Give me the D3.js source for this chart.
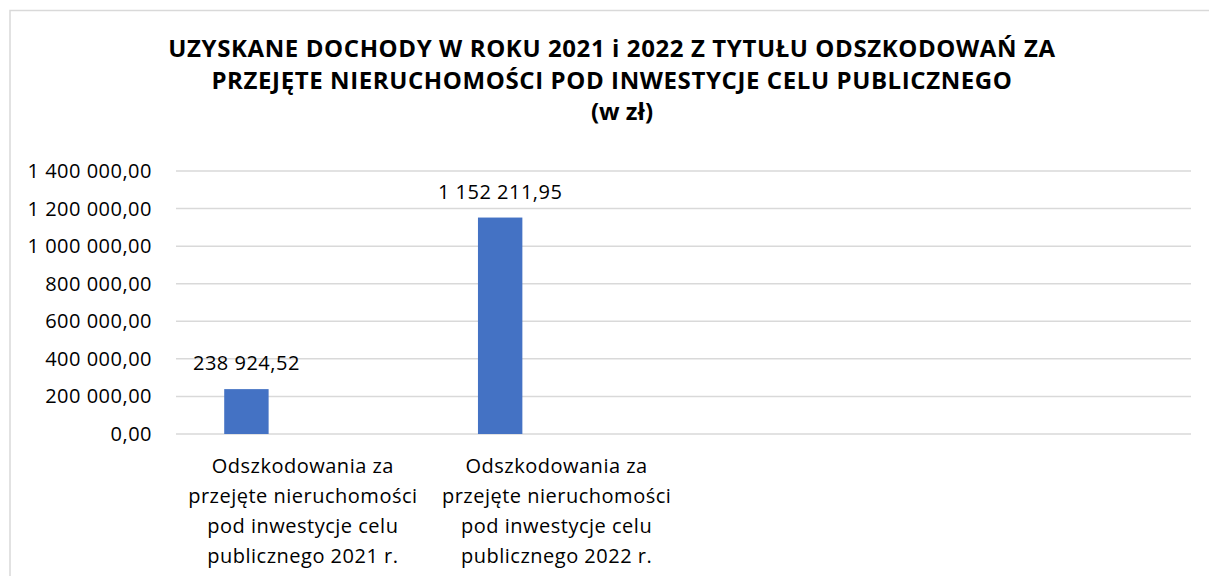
<!DOCTYPE html>
<html>
<head>
<meta charset="utf-8">
<script src="https://cdn.jsdelivr.net/npm/d3@7"></script>
<style>
  body { margin: 0; background: #fff; }
  text { font-family: "Open Sans", Lato, sans-serif; fill: #000; }
</style>
</head>
<body>
<script>
/* data */
var titleLines = [
    'UZYSKANE DOCHODY W ROKU 2021 i 2022 Z TYTUŁU ODSZKODOWAŃ ZA',
    'PRZEJĘTE NIERUCHOMOŚCI POD INWESTYCJE CELU PUBLICZNEGO',
    '(w zł)'
]
var categories = ['2021', '2022', 'empty3', 'empty4']
var categoryLabels = [
    ['Odszkodowania za', 'przejęte nieruchomości', 'pod inwestycje celu', 'publicznego 2021 r.'],
    ['Odszkodowania za', 'przejęte nieruchomości', 'pod inwestycje celu', 'publicznego 2022 r.'],
    [],
    []
]
var values = [238924.52, 1152211.95, null, null]
var yTicks = [0, 200000, 400000, 600000, 800000, 1000000, 1200000, 1400000]

/* setup */
var width = 1209
var height = 576
var plot = { left: 176, right: 1191, top: 171, bottom: 434 }

var fmt = function(v) {
    var s = v.toFixed(2).split('.')
    return s[0].replace(/\B(?=(\d{3})+(?!\d))/g, ' ') + ',' + s[1]
}

var svg =
    d3.select('body').append('svg')
    .attr('width', width)
    .attr('height', height)

// chart frame
svg.append('path')
    .attr('d', 'M10,' + height + 'V10.5H' + width)
    .attr('fill', 'none')
    .attr('stroke', '#d9d9d9')
    .attr('stroke-width', 1.5)

var x = d3.scaleBand()
    .domain(categories)
    .range([plot.left, plot.right])

var y = d3.scaleLinear()
    .domain([0, 1400000])
    .range([plot.bottom, plot.top])

/* title */
svg.append('g').selectAll('text').data(titleLines)
    .enter().append('text')
    .attr('x', function(d, i) { return i == 2 ? 622 : 612 })
    .attr('y', function(d, i) { return 57 + i * 31.5 })
    .attr('text-anchor', 'middle')
    .style('font-size', '24px')
    .style('font-weight', 'bold')
    .style('letter-spacing', function(d, i) { return i == 2 ? '0px' : '0.6px' })
    .text(function(d) { return d })

/* grid + y labels */
var gy = svg.append('g')
gy.selectAll('line').data(yTicks)
    .enter().append('line')
    .attr('x1', plot.left)
    .attr('x2', plot.right)
    .attr('y1', function(d) { return y(d) })
    .attr('y2', function(d) { return y(d) })
    .attr('stroke', '#d9d9d9')
    .attr('stroke-width', 1.5)

var labelStyle = function(sel) {
    sel.style('font-size', '20px').style('letter-spacing', '0.5px')
}

gy.selectAll('text').data(yTicks)
    .enter().append('text')
    .attr('x', 152)
    .attr('y', function(d) { return y(d) + 7 })
    .attr('text-anchor', 'end')
    .call(labelStyle)
    .text(fmt)

/* bars */
var barW = x.bandwidth() * 0.175
var barOff = x.bandwidth() * 0.19
var data = categories.map(function(c, i) { return { c: c, v: values[i] } })
    .filter(function(d) { return d.v != null })

svg.append('g').selectAll('rect').data(data)
    .enter().append('rect')
    .attr('x', function(d) { return x(d.c) + barOff })
    .attr('width', barW)
    .attr('y', function(d) { return y(d.v) })
    .attr('height', function(d) { return y(0) - y(d.v) })
    .attr('fill', '#4472c4')

svg.append('g').selectAll('text').data(data)
    .enter().append('text')
    .attr('x', function(d) { return x(d.c) + barOff + barW / 2 })
    .attr('y', function(d) { return y(d.v) - 19 })
    .attr('text-anchor', 'middle')
    .call(labelStyle)
    .text(function(d) { return fmt(d.v) })

/* category labels */
var gx = svg.append('g')
categories.forEach(function(c, i) {
    gx.append('text')
        .attr('x', x(c) + x.bandwidth() / 2)
        .attr('y', 473)
        .attr('text-anchor', 'middle')
        .call(labelStyle)
        .selectAll('tspan').data(categoryLabels[i])
        .enter().append('tspan')
        .attr('x', x(c) + x.bandwidth() / 2)
        .attr('dy', function(d, j) { return j ? 30 : 0 })
        .text(function(d) { return d })
})
</script>
</body>
</html>
